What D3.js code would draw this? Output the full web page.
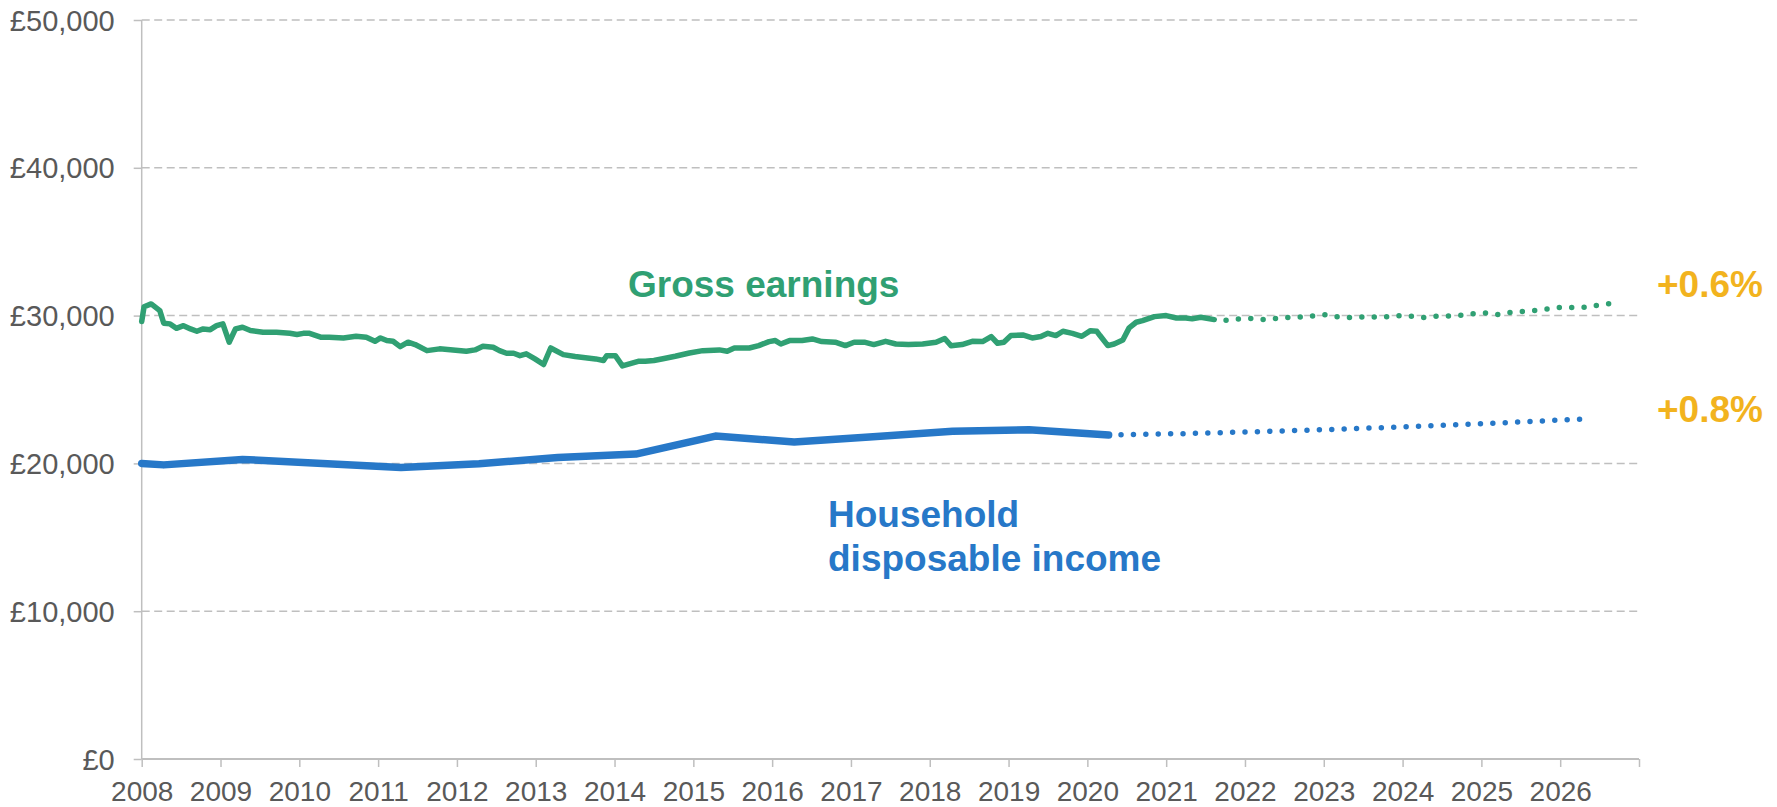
<!DOCTYPE html>
<html>
<head>
<meta charset="utf-8">
<script src="https://cdn.jsdelivr.net/npm/d3@7"></script>
<style>
  body { margin: 0; background: #fff; }
  svg { display: block; font-family: "Liberation Sans", Arial, sans-serif; }
</style>
</head>
<body>
<div class="container"></div>
<script>
// gross earnings, monthly readings (decimal year, £)
const earningsYears = [
  2008.0, 2008.03, 2008.12, 2008.23, 2008.28, 2008.36, 2008.44, 2008.53, 2008.62, 2008.7,
  2008.78, 2008.87, 2008.95, 2009.03, 2009.11, 2009.19, 2009.28, 2009.38, 2009.54, 2009.71,
  2009.88, 2009.97, 2010.05, 2010.13, 2010.28, 2010.38, 2010.56, 2010.72, 2010.85, 2010.96,
  2011.03, 2011.11, 2011.19, 2011.28, 2011.38, 2011.47, 2011.62, 2011.78, 2011.95, 2012.12,
  2012.23, 2012.33, 2012.46, 2012.54, 2012.63, 2012.72, 2012.8, 2012.88, 2012.99, 2013.1,
  2013.19, 2013.35, 2013.5, 2013.76, 2013.86, 2013.9, 2014.01, 2014.1, 2014.3, 2014.39,
  2014.5, 2014.63, 2014.77, 2014.95, 2015.12, 2015.33, 2015.43, 2015.52, 2015.71, 2015.83,
  2015.96, 2016.04, 2016.11, 2016.22, 2016.38, 2016.51, 2016.63, 2016.8, 2016.93, 2017.04,
  2017.17, 2017.29, 2017.44, 2017.57, 2017.73, 2017.91, 2018.08, 2018.19, 2018.27, 2018.41,
  2018.54, 2018.67, 2018.78, 2018.86, 2018.94, 2019.03, 2019.18, 2019.3, 2019.41, 2019.5,
  2019.6, 2019.69, 2019.81, 2019.93, 2020.04, 2020.12, 2020.16, 2020.26, 2020.34, 2020.45,
  2020.53, 2020.62, 2020.7, 2020.85, 2021.0, 2021.13, 2021.25, 2021.33, 2021.44
];
const earningsValues = [
  29600, 30600, 30790, 30340, 29480, 29440, 29140, 29320, 29100, 28940,
  29100, 29050, 29320, 29440, 28200, 29100, 29210, 28990, 28870, 28870,
  28800, 28720, 28800, 28800, 28530, 28530, 28490, 28600, 28530, 28260,
  28490, 28310, 28260, 27900, 28200, 28040, 27630, 27750, 27680, 27590,
  27680, 27930, 27860, 27630, 27450, 27450, 27290, 27410, 27070, 26690,
  27810, 27360, 27230, 27070, 26960, 27290, 27290, 26600, 26910, 26910,
  26960, 27100, 27250, 27470, 27630, 27680, 27590, 27810, 27810, 27970,
  28240, 28310, 28080, 28310, 28310, 28420, 28240, 28200, 27970, 28200,
  28200, 28040, 28260, 28080, 28040, 28080, 28200, 28450, 27960, 28040,
  28260, 28240, 28580, 28130, 28200, 28650, 28690, 28490, 28580, 28800,
  28650, 28940, 28800, 28600, 28980, 28940, 28650, 27970, 28080, 28350,
  29170, 29550, 29660, 29930, 30000, 29840, 29840, 29780, 29890
];
const earningsLast = [2021.61, 29730];

// gross earnings forecast (dotted)
const earningsFcYears = [
  2021.76, 2021.92, 2022.09, 2022.24, 2022.39, 2022.55, 2022.71, 2022.86, 2023.03, 2023.18,
  2023.34, 2023.49, 2023.65, 2023.81, 2023.96, 2024.13, 2024.28, 2024.44, 2024.6, 2024.75,
  2024.91, 2025.07, 2025.22, 2025.38, 2025.54, 2025.7, 2025.85, 2026.01, 2026.17, 2026.33,
  2026.49, 2026.64
];
const earningsFcValues = [
  29680, 29780, 29800, 29730, 29800, 29870, 29910, 29980, 30070, 29910,
  29870, 29910, 29910, 29930, 30000, 29960, 29870, 29960, 29980, 30020,
  30140, 30180, 30070, 30230, 30290, 30360, 30450, 30560, 30540, 30560,
  30720, 30810
];

// household disposable income, annual
const incomeYears = [2008.0, 2008.28, 2009.28, 2011.29, 2012.28, 2013.28, 2014.27, 2015.28, 2016.28, 2017.28, 2018.29, 2019.26, 2020.27];
const incomeValues = [20000, 19900, 20270, 19730, 19980, 20400, 20630, 21850, 21450, 21800, 22180, 22280, 21920];
const incomeFcYears = [2020.27, 2021.27, 2022.27, 2023.27, 2024.27, 2025.27, 2026.27];
const incomeFcValues = [21920, 22020, 22160, 22330, 22520, 22750, 23000];

const yTicks = [0, 10000, 20000, 30000, 40000, 50000];
const xTicks = d3.range(2008, 2028);
const growthLabels = ["+0.6%", "+0.8%"];

const W = 1777, H = 807;
const plotLeft = 141.7, plotRight = 1639, plotTop = 20, plotBottom = 759;
const green = "#30A073", blue = "#2778C8", orange = "#F2B31E", grey = "#595959", rule = "#BFBFBF";

const x = d3.scaleLinear().domain([2008, 2027]).range([plotLeft, plotRight]);
const y = d3.scaleLinear().domain([0, 50000]).range([plotBottom, plotTop]);

const svg = d3.select(".container").append("svg").attr("width", W).attr("height", H);

// gridlines
svg.append("g")
  .selectAll("line")
  .data(yTicks.filter((d) => d > 0))
  .join("line")
  .attr("x1", plotLeft).attr("x2", plotRight)
  .attr("y1", (d) => y(d)).attr("y2", (d) => y(d))
  .attr("stroke", rule).attr("stroke-width", 1.5)
  .attr("stroke-dasharray", "8 4.5");

const yAxis = d3.axisLeft(y).tickValues(yTicks).tickSize(8).tickPadding(19)
  .tickFormat((d) => "£" + d3.format(",")(d));
svg.append("g")
  .attr("transform", `translate(${plotLeft},0)`)
  .call(yAxis)
  .call((g) => g.select(".domain").attr("stroke", rule).attr("stroke-width", 1.5).attr("d", `M0,${plotTop}V${plotBottom}`))
  .call((g) => g.selectAll(".tick line").attr("stroke", rule).attr("stroke-width", 1.5))
  .call((g) => g.selectAll("text").attr("fill", grey).style("font-size", "29px").attr("dy", "0.35em"));

const xAxis = d3.axisBottom(x).tickValues(xTicks).tickSize(8).tickPadding(14)
  .tickFormat((d) => (d < 2027 ? d3.format("d")(d) : ""));
svg.append("g")
  .attr("transform", `translate(0,${plotBottom})`)
  .call(xAxis)
  .call((g) => g.select(".domain").attr("stroke", rule).attr("stroke-width", 2).attr("d", `M${plotLeft},0H${plotRight}`))
  .call((g) => g.selectAll(".tick line").attr("stroke", rule).attr("stroke-width", 1.5))
  .call((g) => g.selectAll("text").attr("fill", grey).style("font-size", "28px").attr("dy", "0.71em"));

const line = d3.line().x((d) => x(d[0])).y((d) => y(d[1]));

const earnings = earningsYears.map((d, i) => [d, earningsValues[i]]).concat([earningsLast]);
const earningsFc = earningsFcYears.map((d, i) => [d, earningsFcValues[i]]);
const income = incomeYears.map((d, i) => [d, incomeValues[i]]);
const incomeFc = incomeFcYears.map((d, i) => [d, incomeFcValues[i]]);

svg.append("path").datum(incomeFc).attr("d", line)
  .attr("fill", "none").attr("stroke", blue).attr("stroke-width", 5.5)
  .attr("stroke-linecap", "round").attr("stroke-dasharray", "0 12.4");
svg.append("path").datum(income).attr("d", line)
  .attr("fill", "none").attr("stroke", blue).attr("stroke-width", 7.5)
  .attr("stroke-linejoin", "round").attr("stroke-linecap", "round");

svg.append("path").datum(earningsFc).attr("d", line)
  .attr("fill", "none").attr("stroke", green).attr("stroke-width", 5.5)
  .attr("stroke-linecap", "round").attr("stroke-dasharray", "0 12.4");
svg.append("path").datum(earnings).attr("d", line)
  .attr("fill", "none").attr("stroke", green).attr("stroke-width", 5.5)
  .attr("stroke-linejoin", "round").attr("stroke-linecap", "round");

// labels
svg.append("text").attr("x", 628).attr("y", 297)
  .attr("fill", green).style("font-size", "37px").style("font-weight", "bold")
  .text("Gross earnings");

const hh = svg.append("text").attr("fill", blue).style("font-size", "37px").style("font-weight", "bold");
hh.append("tspan").attr("x", 828).attr("y", 527).text("Household");
hh.append("tspan").attr("x", 828).attr("y", 571).text("disposable income");

svg.append("g").selectAll("text")
  .data(growthLabels)
  .join("text")
  .attr("x", 1657)
  .attr("y", (d, i) => [297, 422][i])
  .attr("fill", orange).style("font-size", "37px").style("font-weight", "bold")
  .text((d) => d);
</script>
</body>
</html>
